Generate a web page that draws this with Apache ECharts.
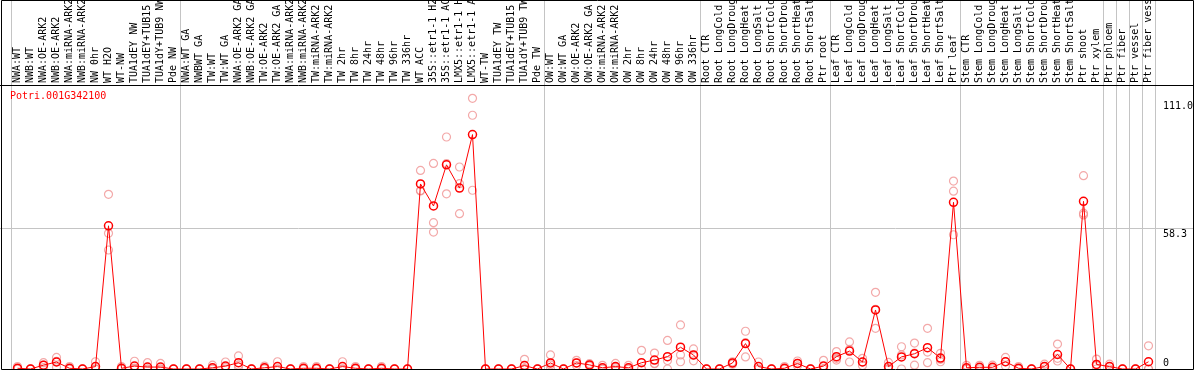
<!DOCTYPE html>
<html><head><meta charset="utf-8">
<script src="https://cdn.jsdelivr.net/npm/echarts@6/dist/echarts.min.js"></script>
<style>html,body{margin:0;padding:0;background:#fff}#c{width:1194px;height:370px}</style>
</head><body><div id="c"></div>
<script>
const geneTitle = 'Potri.001G342100';
const categories = [
 'NWA:WT','NWB:WT','NWA:OE-ARK2','NWB:OE-ARK2','NWA:miRNA-ARK2','NWB:miRNA-ARK2','NW 0hr','WT H2O','WT-NW','TUA1dEY NW','TUA1dEY+TUB15 NW','TUA1dY+TUB9 NW','Pde NW',
 'NWA:WT GA','NWBWT GA','TW:WT','TW:WT GA','NWA:OE-ARK2 GA','NWB:OE-ARK2 GA','TW:OE-ARK2','TW:OE-ARK2 GA','NWA:miRNA-ARK2 GA','NWB:miRNA-ARK2 GA','TW:miRNA-ARK2','TW:miRNA-ARK2 GA','TW 2hr','TW 8hr','TW 24hr','TW 48hr','TW 96hr','TW 336hr','WT ACC','35S::etr1-1 H2O','35S::etr1-1 ACC','LMX5::etr1-1 H2O','LMX5::etr1-1 ACC','WT-TW','TUA1dEY TW','TUA1dEY+TUB15 TW','TUA1dY+TUB9 TW','Pde TW',
 'OW:WT','OW:WT GA','OW:OE-ARK2','OW:OE-ARK2 GA','OW:miRNA-ARK2','OW:miRNA-ARK2 GA','OW 2hr','OW 8hr','OW 24hr','OW 48hr','OW 96hr','OW 336hr',
 'Root CTR','Root LongCold','Root LongDrought','Root LongHeat','Root LongSalt','Root ShortCold','Root ShortDrought','Root ShortHeat','Root ShortSalt','Ptr root',
 'Leaf CTR','Leaf LongCold','Leaf LongDrought','Leaf LongHeat','Leaf LongSalt','Leaf ShortCold','Leaf ShortDrought','Leaf ShortHeat','Leaf ShortSalt','Ptr leaf',
 'Stem CTR','Stem LongCold','Stem LongDrought','Stem LongHeat','Stem LongSalt','Stem ShortCold','Stem ShortDrought','Stem ShortHeat','Stem ShortSalt','Ptr shoot','Ptr xylem',
 'Ptr phloem','Ptr fiber','Ptr vessel','Ptr fiber vessel'
];
const meanValues = [
 0.3,0,1.6,2.9,0.3,0,1.0,59.2,0.3,1.2,0.8,0.8,0,
 0,0,0.5,1.2,2.6,0,0.5,1.0,0,0.3,0.3,0,1.0,0.3,0,0.3,0,0,76.5,67.4,84.4,74.8,96.9,0,0,0,1.4,0,
 2.5,0,2.5,1.7,0.5,1.0,0.5,2.6,3.7,5.1,9.0,5.8,
 0,0,2.5,10.5,1.0,0,0.3,2.3,0,1.2,
 5.1,7.4,2.9,24.4,1.0,5.0,6.3,8.8,4.5,68.9,
 0.5,0.7,0.7,3.0,0.3,0,1.0,6.0,0,69.3,1.9,
 1.0,0,0,3.0
];
const rep1 = [
 1.0,0,2.6,4.8,1.0,0,3.0,72.2,1.0,3.2,2.6,2.3,0,
 0,0,1.6,2.9,5.4,0,1.2,3.0,0,1.0,1.0,0,3.0,1.0,0,1.0,0,0,82.1,85.0,95.9,83.5,111.9,0,0,0,4.0,0,
 5.8,0,3.6,2.2,1.5,2.3,1.5,7.7,6.6,11.8,18.2,8.3,
 0,0,3.0,15.6,2.9,0,1.0,3.3,0,3.6,
 7.2,11.2,4.4,31.7,2.7,9.2,10.7,16.8,6.5,77.7,
 1.5,1.5,1.6,4.8,1.0,0,2.0,10.3,0,79.9,4.1,
 2.0,0,0,9.6
];
const rep2 = [
 0,0,1.6,3.2,0,0,0,56.1,0,0.4,0,0,0,
 0,0,0,0.7,1.6,0,0.3,0,0,0,0,0,0,0,0,0,0,0,73.6,60.5,84.9,76.6,104.9,0,0,0,0.2,0,
 1.7,0,2.5,1.7,0,0.7,0,0,2.3,3.5,5.8,5.7,
 0,0,2.5,10.9,0,0,0,2.3,0,0,
 4.4,8.1,2.9,24.7,0.3,5.8,6.6,7.0,4.0,73.5,
 0,0.6,0.5,3.0,0,0,1.0,4.4,0,64.4,1.6,
 1.0,0,0,0
];
const rep3 = [
 0,0,0.6,0.7,0,0,0,49.2,0,0,0,0,0,
 0,0,0,0,0.8,0,0,0,0,0,0,0,0,0,0,0,0,0,73.8,56.6,72.4,64.2,73.9,0,0,0,0,0,
 0,0,1.4,1.2,0,0,0,0,2.2,0,3.0,3.4,
 0,0,2.0,5.0,0,0,0,1.3,0,0,
 3.7,2.9,1.4,16.8,0,0,1.6,2.6,3.0,55.5,
 0,0,0,1.2,0,0,0,3.3,0,63.7,0,
 0,0,0,0
];
const groupBreaks = [0,13,41,53,63,73,84,85,86,87,88];
const yTickValues = [0, 58.3, 111.0];
const yTickLabels = ['0', '58.3', '111.0'];
const yMax = 117.4;

const MONO = 'DejaVu Sans Mono';
const chart = echarts.init(document.getElementById('c'), null, {renderer: 'canvas'});

function repSeries(arr) {
  return {
    type: 'scatter', data: arr, symbol: 'circle', symbolSize: 8, clip: false,
    itemStyle: {color: 'rgba(0,0,0,0)', borderColor: '#f09494', borderWidth: 1.2},
    emphasis: {disabled: true}, z: 2
  };
}

chart.setOption({
  animation: false,
  title: {text: geneTitle, left: 10, top: 91, padding: 0,
    textStyle: {fontFamily: MONO, fontSize: 10, fontWeight: 'normal', color: '#ff0000'}},
  grid: {left: 11, right: 39, top: 85, bottom: 1, containLabel: false, outerBoundsMode: 'none'},
  xAxis: {type: 'category', position: 'top', data: categories, boundaryGap: true,
    axisLine: {show: false}, axisTick: {show: false}, splitLine: {show: false},
    axisLabel: {rotate: 90, interval: 0, fontFamily: MONO, fontSize: 10, color: '#000', margin: 2, hideOverlap: false}},
  yAxis: {type: 'value', min: 0, max: yMax,
    axisLine: {show: false}, axisTick: {show: false}, axisLabel: {show: false}, splitLine: {show: false}},
  series: [
    repSeries(rep1), repSeries(rep2), repSeries(rep3),
    {type: 'line', data: meanValues, symbol: 'circle', symbolSize: 8, showAllSymbol: true, clip: false,
     lineStyle: {color: '#ff0000', width: 1},
     itemStyle: {color: 'rgba(0,0,0,0)', borderColor: '#ff0000', borderWidth: 1.5},
     emphasis: {disabled: true}, z: 3}
  ]
});

const px = i => chart.convertToPixel({xAxisIndex: 0}, i);
const py = v => chart.convertToPixel({yAxisIndex: 0}, v);
const bw = px(1) - px(0);
const W = 1194, BOTTOM = 369.5;
const g = [];
const grey = '#c4c4c4';
groupBreaks.forEach(k => {
  const x = Math.round(px(Math.min(k, categories.length - 1)) + (k >= categories.length ? bw / 2 : -bw / 2)) + 0.5;
  g.push({type: 'line', shape: {x1: x, y1: 0, x2: x, y2: BOTTOM}, style: {stroke: grey, lineWidth: 1}, z: 1, silent: true});
});
const ymid = Math.round(py(58.3)) + 0.5;
g.push({type: 'line', shape: {x1: 0, y1: ymid, x2: W, y2: ymid}, style: {stroke: grey, lineWidth: 1}, z: 1, silent: true});
// frame
g.push({type: 'line', shape: {x1: 0, y1: 85.5, x2: W, y2: 85.5}, style: {stroke: '#000', lineWidth: 1}, z: 5, silent: true});
g.push({type: 'rect', shape: {x: 1.5, y: 0.5, width: 1192, height: 369}, style: {fill: 'none', stroke: '#000', lineWidth: 1}, z: 5, silent: true});
yTickValues.forEach((v, i) => {
  const y = py(v);
  g.push({type: 'text', x: 1163, y: v === 0 ? y - 1 : y + 1,
    style: {text: yTickLabels[i], font: '10px "' + MONO + '"', fill: '#000', verticalAlign: v === 0 ? 'bottom' : 'top', align: 'left'}, z: 6, silent: true});
});
chart.setOption({graphic: g});
</script></body></html>
